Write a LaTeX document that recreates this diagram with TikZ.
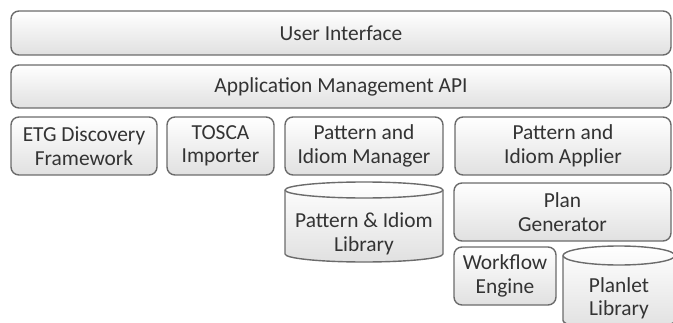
\documentclass[tikz,border=0pt]{standalone}
\usepackage{fontspec}
\setmainfont{Carlito}
\tikzset{
    layer/.style={draw=black!58, line width=1.4pt, rounded corners=8pt, top color=white, bottom color=black!12, align=center, inner sep=0pt, text=black!80},
    store/.style={draw=black!58, line width=1.4pt, top color=white, bottom color=black!12},
    label/.style={align=center, inner sep=0pt, text=black!80}
}
\begin{document}
\begin{tikzpicture}[x=1pt, y=1pt, font=\fontsize{21.4}{23.5}\selectfont]
    \useasboundingbox (0,0) rectangle (673,322);
    \clip (0,0) rectangle (673,322);

    % Top layers
    \node[layer, minimum width=660pt, minimum height=44pt] (ui) at (341,289) {User Interface};
    \node[layer, minimum width=660pt, minimum height=43pt] (api) at (341,235.5) {Application Management API};

    % Components
    \node[layer, minimum width=146pt, minimum height=58pt] (etg) at (84,176) {ETG Discovery\\Framework};
    \node[layer, minimum width=107pt, minimum height=58pt] (tosca) at (220.5,176) {TOSCA\\Importer};
    \node[layer, minimum width=158pt, minimum height=58pt] (manager) at (364,176) {Pattern and\\Idiom Manager};
    \node[layer, minimum width=216pt, minimum height=58pt] (applier) at (563,176) {Pattern and\\Idiom Applier};
    \node[layer, minimum width=217pt, minimum height=58pt] (generator) at (562.5,110) {Plan\\Generator};
    \node[layer, minimum width=102pt, minimum height=58pt] (workflow) at (505,46) {Workflow\\Engine};

    % Pattern library
    \draw[store] (285,132) -- (285,68) arc[start angle=180, end angle=360, x radius=79, y radius=8] -- (443,132) arc[start angle=0, end angle=180, x radius=79, y radius=8] -- cycle;
    \draw[draw=black!58, line width=1.4pt] (285,132) arc[start angle=180, end angle=360, x radius=79, y radius=8];
    \node[label] (patlib) at (364,88) {Pattern \& Idiom\\Library};

    % Planlet library
    \draw[store] (563,66.5) -- (563,1.5) arc[start angle=180, end angle=360, x radius=56, y radius=9.5] -- (675,66.5) arc[start angle=0, end angle=180, x radius=56, y radius=9.5] -- cycle;
    \draw[draw=black!58, line width=1.4pt] (563,66.5) arc[start angle=180, end angle=360, x radius=56, y radius=9.5];
    \node[label] (planlib) at (619,23.5) {Planlet\\Library};

\end{tikzpicture}
\end{document}
